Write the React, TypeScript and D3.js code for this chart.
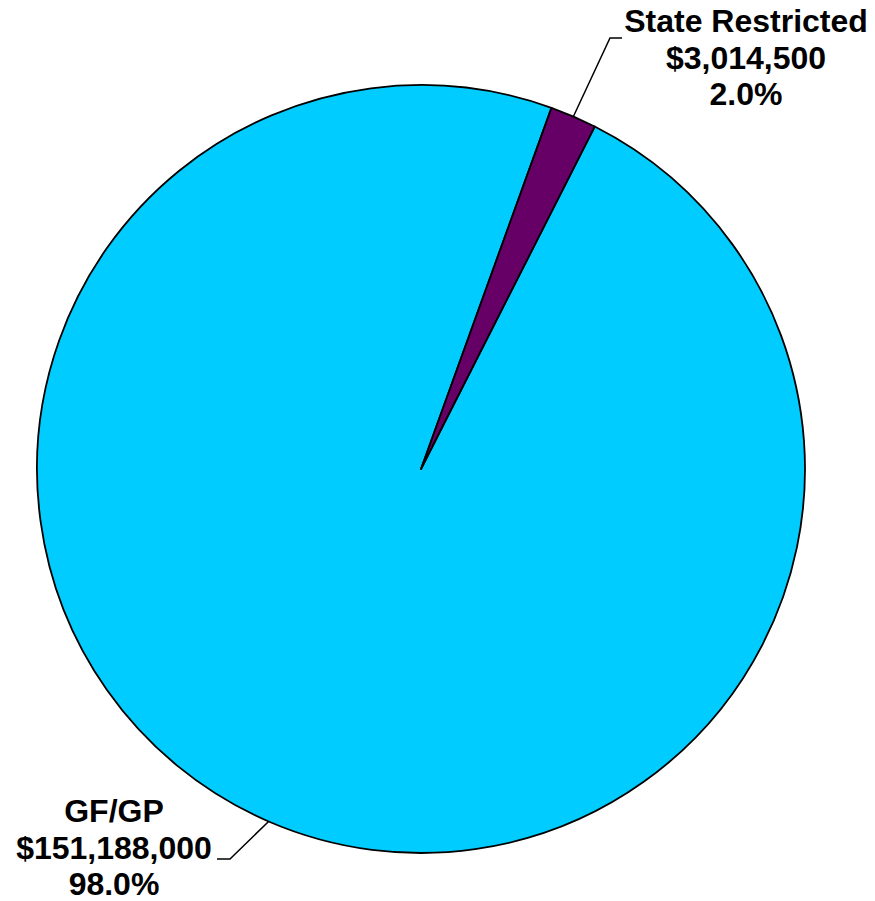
import React from "react";
import * as d3 from "d3";

const categories = ["GF/GP", "State Restricted"];
const amounts = [151188000, 3014500];
const percents = ["98.0%", "2.0%"];
const colors = ["#00CCFF", "#660066"];

const W = 875;
const H = 901;
const cx = 421;
const cy = 469;
const R = 384;
const startDeg = 26.9;

export default function App() {
  const data = categories.map((c, i) => ({ name: c, value: amounts[i], pct: percents[i], color: colors[i] }));
  const pie = d3
    .pie<any>()
    .value((d) => d.value)
    .sort(null)
    .startAngle((startDeg * Math.PI) / 180)
    .endAngle((startDeg * Math.PI) / 180 + 2 * Math.PI);
  const arcs = pie(data);
  const arcGen = d3.arc<any>().innerRadius(0).outerRadius(R);
  const fmt = d3.format("$,");

  const layout = [
    { ex: 230, ey: 859, tx: 217, lx: 114, ly: 822 },
    { ex: 610, ey: 38, tx: 622, lx: 746, ly: 32 },
  ];

  return (
    <svg
      width={W}
      height={H}
      style={{ position: "absolute", left: 0, top: 0, background: "#fff" }}
      fontFamily="'Liberation Sans', Arial, sans-serif"
    >
      <g transform={`translate(${cx},${cy})`}>
        {arcs.map((a, i) => (
          <path key={i} d={arcGen(a) as string} fill={a.data.color} stroke="#000" strokeWidth={1.8} strokeLinejoin="round" />
        ))}
      </g>
      {arcs.map((a, i) => {
        const mid = (a.startAngle + a.endAngle) / 2;
        const px = cx + R * Math.sin(mid);
        const py = cy - R * Math.cos(mid);
        const L = layout[i];
        return (
          <g key={i}>
            <polyline points={`${px},${py} ${L.ex},${L.ey} ${L.tx},${L.ey}`} fill="none" stroke="#000" strokeWidth={1.5} />
            <text x={L.lx} y={L.ly} textAnchor="middle" fontSize={32} fontWeight="bold" fill="#000">
              <tspan x={L.lx} y={L.ly}>{a.data.name}</tspan>
              <tspan x={L.lx} y={L.ly + 36.5}>{fmt(a.data.value)}</tspan>
              <tspan x={L.lx} y={L.ly + 73}>{a.data.pct}</tspan>
            </text>
          </g>
        );
      })}
    </svg>
  );
}
